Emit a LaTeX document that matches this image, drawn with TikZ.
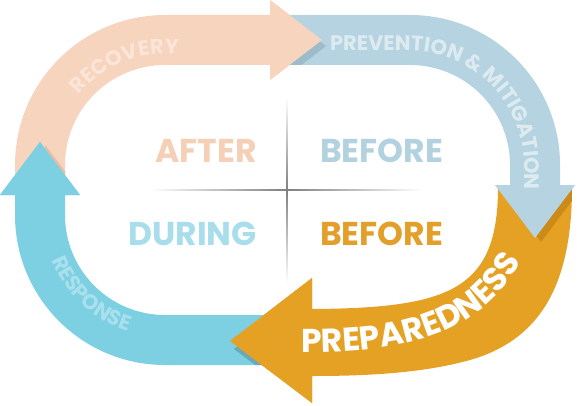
\documentclass[tikz,border=0pt]{standalone}
\usepackage{fontspec}
\setmainfont{Poppins}
\usetikzlibrary{decorations.text}
\definecolor{peach}{HTML}{F6D4BE}
\definecolor{peachD}{HTML}{E6BEA3}
\definecolor{peachT}{HTML}{FAE5D8}
\definecolor{sky}{HTML}{B5D3E0}
\definecolor{skyD}{HTML}{9CBCCA}
\definecolor{skyT}{HTML}{DDEBF1}
\definecolor{cyanA}{HTML}{7DCFE2}
\definecolor{cyanD}{HTML}{6AA9B9}
\definecolor{cyanT}{HTML}{A8E0ED}
\definecolor{orng}{HTML}{E5A124}
\definecolor{orngD}{HTML}{CC8B19}
\definecolor{afterC}{HTML}{F5CFB6}
\definecolor{duringC}{HTML}{A8DEEC}
\definecolor{beforeA}{HTML}{B3D2DF}
\definecolor{beforeB}{HTML}{E2A02A}
\newcommand\pathPeach{(15,215) -- (15,240) arc[start angle=180,end angle=90,radius=150] -- (270,390) -- (270,405) -- (322,365) -- (270,325) -- (270,340) -- (165,340) arc[start angle=90,end angle=180,radius=100] -- (65,215) -- cycle}
\newcommand\pathSky{(285,390) -- (410,390) arc[start angle=90,end angle=0,radius=150] -- (560,220) -- (575,220) -- (535,167) -- (495,220) -- (510,220) -- (510,240) arc[start angle=0,end angle=90,radius=100] -- (285,340) -- cycle}
\newcommand\pathCyan{(305,40) -- (165,40) arc[start angle=270,end angle=180,radius=150] -- (15,210) -- (0,210) -- (40,263) -- (80,210) -- (65,210) -- (65,190) arc[start angle=180,end angle=270,radius=100] -- (305,90) -- cycle}
\newcommand\pathOrng{(498,218) -- (572,218) .. controls (572,120) and (540,65) .. (470,45) .. controls (420,31) and (360,29) .. (312,29) -- (312,2) -- (230,64) -- (312,127) -- (312,96) .. controls (450,97) and (498,115) .. (498,218) -- cycle}
\newcommand\headPeach{(270,405) -- (322,365) -- (270,325) -- cycle}
\newcommand\headSky{(495,220) -- (535,167) -- (575,220) -- cycle}
\newcommand\headCyan{(0,210) -- (40,263) -- (80,210) -- cycle}
\newcommand\headOrng{(312,2) -- (230,64) -- (312,127) -- cycle}
\newcommand\smallfnt{\fontsize{21}{21}\selectfont\bfseries}
\tikzset{
  lbl/.style={font=\fontsize{33}{33}\selectfont\bfseries, inner sep=0pt},
}
\begin{document}
\begin{tikzpicture}[x=1pt,y=1pt]
\useasboundingbox (0,0) rectangle (577,405);
% center cross
\shade[left color=white, right color=white, middle color=black!50] (150,214.6) rectangle (423,215.6);
\shade[top color=white, bottom color=white, middle color=black!50] (286.5,122) rectangle (287.5,308);
% bands
\fill[peach] \pathPeach;
\fill[sky] \pathSky;
\fill[orng] \pathOrng;
\fill[cyanA] \pathCyan;
% shadows
\begin{scope}\clip \pathSky; \fill[skyD, shift={(4,-6)}] \headPeach; \end{scope}
\begin{scope}\clip \pathOrng; \fill[orngD, shift={(6,-4)}] \headSky; \end{scope}
\begin{scope}\clip \pathCyan; \fill[cyanD, shift={(4,-8)}] \headOrng; \end{scope}
\begin{scope}\clip \pathPeach; \fill[peachD, shift={(6,-4)}] \headCyan; \end{scope}
% heads on top
\fill[peach] \headPeach;
\fill[sky] \headSky;
\fill[orng] \headOrng;
\fill[cyanA] \headCyan;
% curved labels
\path[decorate, decoration={text along path, text align=center,
  text={|\smallfnt\color{peachT}|RECOVERY}}]
  (165,240) ++(153:111) arc[start angle=153,end angle=71,radius=111];
\path[decorate, decoration={text along path, text align=left,
  text={|\smallfnt\color{skyT}|PREVENTION {\&} MITIGATION}}]
  (330,354) -- (410,354) arc[start angle=90,end angle=0,radius=114] -- (524,160);
\path[decorate, decoration={text along path, text align=center,
  text={|\smallfnt\color{cyanT}|RESPONSE}}]
  (165,190) ++(186:122) arc[start angle=186,end angle=268,radius=122];
\path[decorate, decoration={text along path, text align=left,
  text={|\fontsize{33}{33}\selectfont\bfseries\color{white}|PREPAREDNESS}}]
  (301,53) .. controls (420,52) and (495,75) .. (535,170);
% quadrant labels
\node[lbl, text=afterC, anchor=base east] (after) at (257,243) {AFTER};
\node[lbl, text=beforeA, anchor=base west] (before1) at (320,243) {BEFORE};
\node[lbl, text=duringC, anchor=base east] (during) at (257,160) {DURING};
\node[lbl, text=beforeB, anchor=base west] (before2) at (320,160) {BEFORE};
\end{tikzpicture}
\end{document}
